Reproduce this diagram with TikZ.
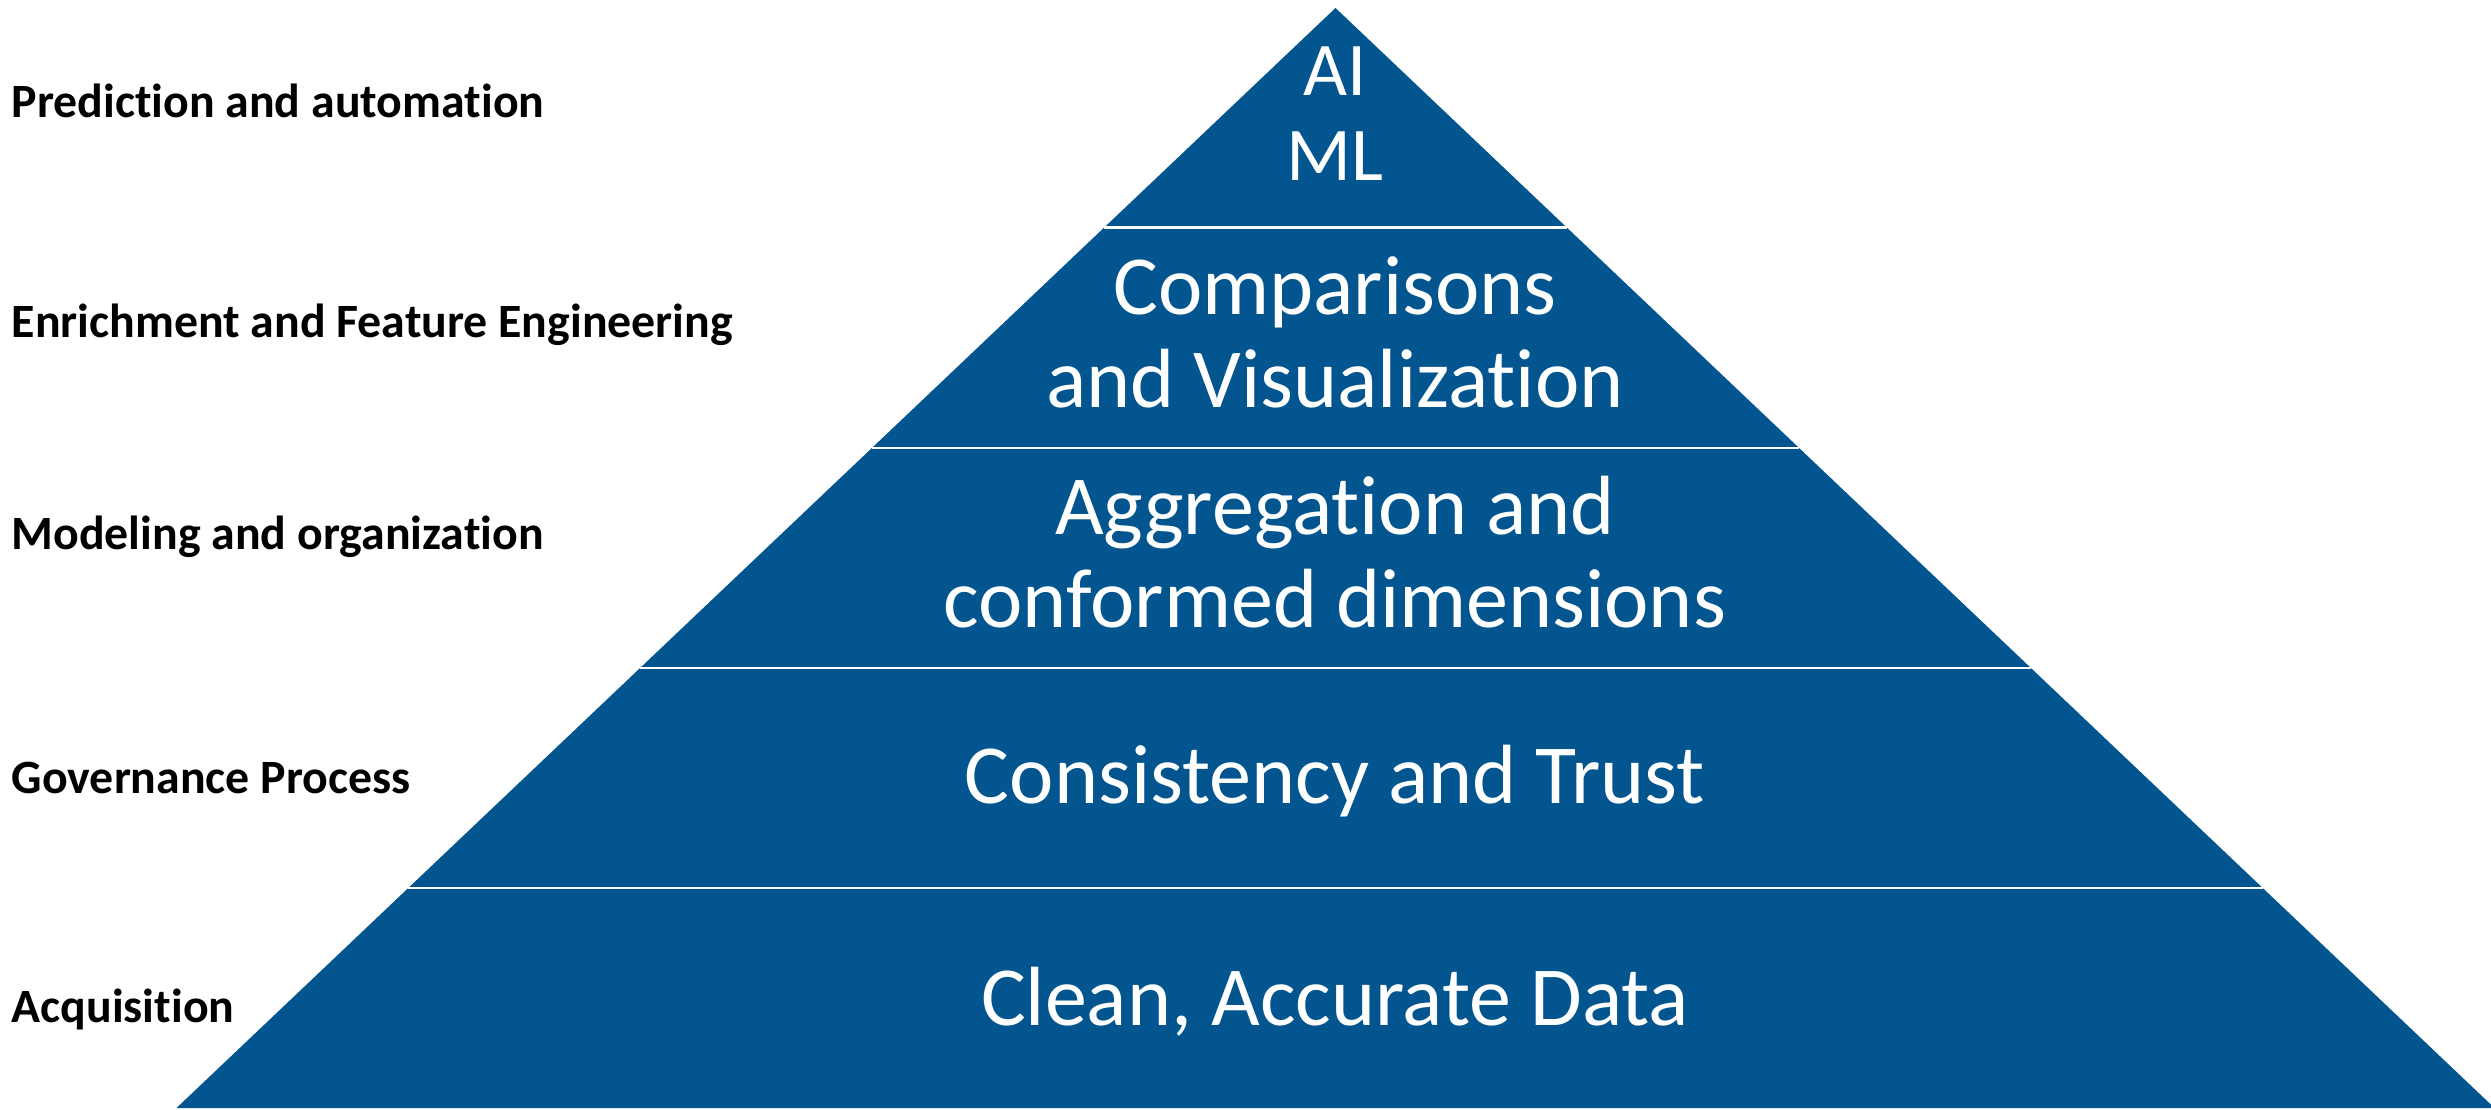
\documentclass[tikz,border=0pt]{standalone}
\usepackage{fontspec}
\setmainfont{Carlito}[Ligatures=NoCommon]
\definecolor{pyrblue}{RGB}{2,85,143}
\tikzset{
  lefttxt/.style={anchor=base west, inner sep=0pt, font=\fontsize{13.6}{16}\selectfont\bfseries},
  laytxt/.style={anchor=base, text=white, align=center, font=\fontsize{23.9}{26.7}\selectfont},
}
\begin{document}
\begin{tikzpicture}[x={(0.01cm,0)}, y={(0,-0.01cm)}]
    \useasboundingbox (0,0) rectangle (2491,1110);

    % pyramid and the white cuts between its layers
    \fill[pyrblue] (1335.5,8) -- (2494.5,1108) -- (176.5,1108) -- cycle;
    \foreach \y in {228,448,668,888} \draw[white, line width=0.85pt] ({1335.5-1.0536*(\y-8)},\y) -- ({1335.5+1.0536*(\y-8)},\y);

    \node[lefttxt] (pred) at (11,118) {Prediction and automation};
    \node[lefttxt] (enrich) at (11,338) {Enrichment and Feature Engineering};
    \node[lefttxt] (model) at (11,550) {Modeling and organization};
    \node[lefttxt] (gov) at (11,793) {Governance Process};
    \node[lefttxt] (acq) at (11,1022) {Acquisition};

    % base anchor = last line
    \node[laytxt, font=\fontsize{21.6}{24.2}\selectfont] (aiml) at (1335,181) {AI\\ML};
    \node[laytxt] (compvis) at (1335,408) {Comparisons\\and Visualization};
    \node[laytxt] (aggr) at (1335,628) {Aggregation and\\conformed dimensions};
    \node[laytxt] (trust) at (1335,803) {Consistency and Trust};
    \node[laytxt] (clean) at (1335,1025) {Clean, Accurate Data};

\end{tikzpicture}
\end{document}
